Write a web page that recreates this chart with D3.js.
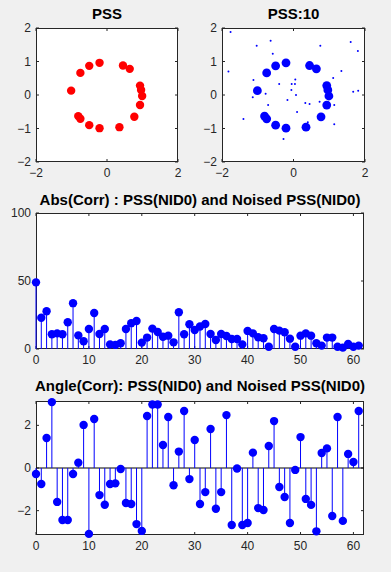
<!DOCTYPE html>
<html>
<head>
<meta charset="utf-8">
<script src="https://cdn.jsdelivr.net/npm/d3@7"></script>
<style>
  html, body { margin: 0; padding: 0; background: #f0f0f0; }
  svg { display: block; }
</style>
</head>
<body>
<div id="chart"></div>
<script>
// PSS constellation (visible distinct points)
const pssRe = [-1.01, -0.75, -0.50, -0.21, 0.45, 0.64, 0.93, 0.96, 0.99, 0.93, 0.77, 0.35, -0.21, -0.50, -0.75, -0.81];
const pssIm = [0.13, 0.66, 0.87, 0.96, 0.88, 0.78, 0.28, 0.15, -0.03, -0.30, -0.65, -0.96, -0.99, -0.90, -0.71, -0.63];

// noisy samples shown as small dots on PSS:10
const noisyRe = [-1.76, -0.64, -1.03, 0.75, 1.60, 1.80, -0.58, -1.82, 1.34, 1.11, -1.12, 0.05, -0.05, 0.04, -0.40, -0.06,
  -0.78, 0.07, -1.14, 1.67, 1.81, -0.17, -0.71, 0.33, 0.45, 0.73, 1.14, 0.10, -1.40, 0.40, 1.14, -0.28];
const noisyIm = [1.88, 1.62, 1.47, 1.47, 1.58, 1.31, 1.23, 0.70, 0.72, 0.51, 0.45, 0.46, 0.33, 0.33, 0.33, 0.15,
  0.04, 0.00, -0.07, 0.10, 0.13, -0.15, -0.30, -0.24, -0.27, -0.20, -0.30, -0.51, -0.72, -0.81, -0.87, -1.31];

// |corr| for lags 0..61
const absCorr = [49, 23, 27.8, 10.8, 11.5, 10.8, 19.7, 33.7, 10, 5.7,
  14.7, 26.5, 11, 14.7, 3.4, 3, 4.2, 14.7, 19, 20.6,
  4.7, 8.4, 15, 12.5, 9, 9.8, 4.9, 27, 10.8, 18.2,
  14, 16.5, 18.4, 11, 6.6, 11, 9.6, 7.4, 7.4, 3.4,
  13.3, 11.5, 8.6, 7.9, 1.7, 14.7, 13.5, 12.3, 7.6, 1.7,
  9.8, 11.5, 9.8, 4.2, 2.5, 8.4, 8.4, 1.7, 1, 3.7,
  1.7, 2.5];

// angle(corr) for lags 0..61
const angleCorr = [-0.28, -0.75, 1.41, 3.09, -1.59, -2.44, -2.44, -0.28, 0.25, 2.02,
  -3.09, 2.30, -1.27, -1.72, -0.75, -0.72, -0.05, -1.64, -1.69, -2.63,
  -2.95, 2.44, 2.98, 2.98, 1.08, 2.39, -0.81, 0.77, 2.67, -0.52,
  1.31, -1.69, -1.13, 1.83, -1.91, -1.13, 2.48, -2.67, -0.02, -2.67,
  -2.58, 0.72, -1.88, -1.97, 1.03, 2.20, -0.89, -1.36, -2.58, -0.09,
  1.45, -1.45, -1.73, -2.97, 0.70, 0.92, -2.25, 2.39, -2.48, 0.66,
  0.28, 2.67];

const iqTicks = [-2, -1, 0, 1, 2];
const iqXTicks = [-2, 0, 2];
const lagTicks = [0, 10, 20, 30, 40, 50, 60];
const absTicks = [0, 50, 100];
const angleTicks = [-2, 0, 2];

const W = 391, H = 572;
const AX = "#262626";
const BLUE = "#0000ff";
const FONT = "Arial, 'Liberation Sans', Helvetica, sans-serif";

const svg = d3.select("#chart").append("svg")
  .attr("width", W).attr("height", H)
  .style("font-family", FONT);

svg.append("rect").attr("width", W).attr("height", H).attr("fill", "#f0f0f0");

// axes frame + ticks (MATLAB style: box on, ticks inward, mirrored)
function drawFrame(g, x, y, xTicks, yTicks, title, titleY) {
  const [x0, x1] = x.range();
  const [y0, y1] = y.range(); // y0 bottom, y1 top
  g.append("rect")
    .attr("x", x0).attr("y", y1)
    .attr("width", x1 - x0).attr("height", y0 - y1)
    .attr("fill", "white");

  const tl = 3;
  xTicks.forEach(t => {
    const px = x(t);
    g.append("line").attr("x1", px).attr("x2", px).attr("y1", y0).attr("y2", y0 - tl).attr("stroke", AX);
    g.append("line").attr("x1", px).attr("x2", px).attr("y1", y1).attr("y2", y1 + tl).attr("stroke", AX);
    g.append("text").attr("x", px).attr("y", y0 + 15)
      .attr("text-anchor", "middle").attr("font-size", "12px").attr("fill", AX)
      .text(d3.format("")(t));
  });
  yTicks.forEach(t => {
    const py = y(t);
    g.append("line").attr("x1", x0).attr("x2", x0 + tl).attr("y1", py).attr("y2", py).attr("stroke", AX);
    g.append("line").attr("x1", x1).attr("x2", x1 - tl).attr("y1", py).attr("y2", py).attr("stroke", AX);
    g.append("text").attr("x", x0 - 5).attr("y", py + 4)
      .attr("text-anchor", "end").attr("font-size", "12px").attr("fill", AX)
      .text(d3.format("")(t));
  });

  g.append("rect")
    .attr("x", x0 + 0.5).attr("y", y1 + 0.5)
    .attr("width", x1 - x0 - 1).attr("height", y0 - y1 - 1)
    .attr("fill", "none").attr("stroke", AX).attr("stroke-width", 1);

  g.append("text")
    .attr("x", (x0 + x1) / 2).attr("y", titleY)
    .attr("text-anchor", "middle")
    .attr("font-size", "15px").attr("font-weight", "bold").attr("fill", "#000")
    .text(title);
}

function drawStem(g, x, y, values, base) {
  g.selectAll(null).data(values).enter().append("line")
    .attr("x1", (d, i) => x(i)).attr("x2", (d, i) => x(i))
    .attr("y1", y(base)).attr("y2", d => y(d))
    .attr("stroke", BLUE).attr("stroke-width", 1);
  g.selectAll(null).data(values).enter().append("circle")
    .attr("cx", (d, i) => x(i)).attr("cy", d => y(d))
    .attr("r", 4.2).attr("fill", BLUE);
}

// ---- PSS ----
{
  const g = svg.append("g");
  const x = d3.scaleLinear().domain([-2, 2]).range([36, 178]);
  const y = d3.scaleLinear().domain([-2, 2]).range([162, 28]);
  drawFrame(g, x, y, iqXTicks, iqTicks, "PSS", 19);
  g.selectAll(null).data(pssRe).enter().append("circle")
    .attr("cx", d => x(d)).attr("cy", (d, i) => y(pssIm[i]))
    .attr("r", 4.2).attr("fill", "#ff0000");
}

// ---- PSS:10 ----
{
  const g = svg.append("g");
  const x = d3.scaleLinear().domain([-2, 2]).range([222, 365]);
  const y = d3.scaleLinear().domain([-2, 2]).range([162, 28]);
  drawFrame(g, x, y, iqXTicks, iqTicks, "PSS:10", 19);
  g.selectAll(null).data(noisyRe).enter().append("circle")
    .attr("cx", d => x(d)).attr("cy", (d, i) => y(noisyIm[i]))
    .attr("r", 1).attr("fill", BLUE);
  g.selectAll(null).data(pssRe).enter().append("circle")
    .attr("cx", d => x(d)).attr("cy", (d, i) => y(pssIm[i]))
    .attr("r", 4.4).attr("fill", BLUE);
}

// ---- Abs(Corr) ----
{
  const g = svg.append("g");
  const x = d3.scaleLinear().domain([0, 62]).range([36, 364]);
  const y = d3.scaleLinear().domain([0, 100]).range([349, 213]);
  drawFrame(g, x, y, lagTicks, absTicks, "Abs(Corr) : PSS(NID0) and Noised PSS(NID0)", 205);
  drawStem(g, x, y, absCorr, 0);
}

// ---- Angle(Corr) ----
{
  const g = svg.append("g");
  const x = d3.scaleLinear().domain([0, 62]).range([36, 364]);
  const y = d3.scaleLinear().domain([-Math.PI, Math.PI]).range([535, 401]);
  drawFrame(g, x, y, lagTicks, angleTicks, "Angle(Corr): PSS(NID0) and Noised PSS(NID0)", 391);
  g.append("line")
    .attr("x1", x(0)).attr("x2", x(62))
    .attr("y1", y(0)).attr("y2", y(0))
    .attr("stroke", "#000").attr("stroke-width", 1);
  drawStem(g, x, y, angleCorr, 0);
}
</script>
</body>
</html>
